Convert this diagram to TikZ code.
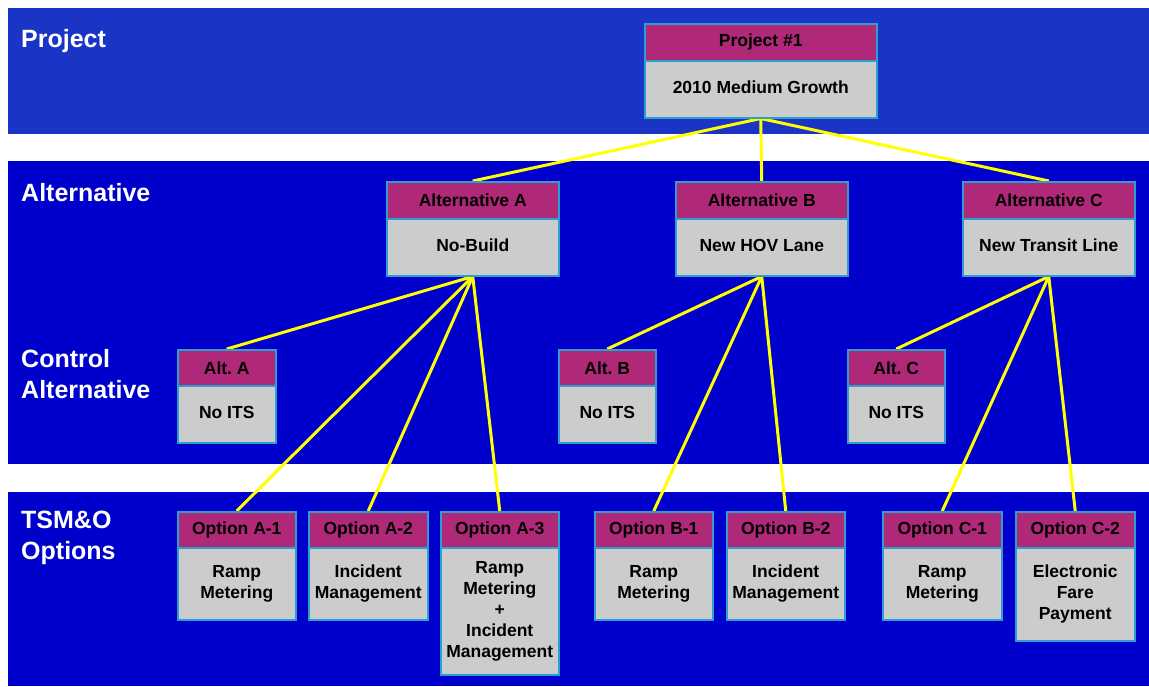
\documentclass[tikz,border=0pt]{standalone}
\usepackage{fontspec}
\setmainfont{Liberation Sans}
\usetikzlibrary{backgrounds}
\definecolor{bandtop}{HTML}{1A35C6}
\definecolor{bandmain}{HTML}{0000CC}
\definecolor{hdrfill}{HTML}{B02878}
\definecolor{bodyfill}{HTML}{CCCCCC}
\definecolor{boxedge}{HTML}{2A9FD0}
\definecolor{linkcol}{HTML}{FFFF00}
\newcommand\mkbox[9][]{%
  \node[hdrbox, minimum width=#5pt, minimum height=#6pt] (#2h) at (#3,#4) {#8};
  \node[bodybox, minimum width=#5pt, minimum height=#7pt, #1] (#2b) at (#3,#4+#6) {#9};
}
\begin{document}
\frenchspacing
\begin{tikzpicture}[x=1pt,y=-1pt,
  boxtext/.style={font=\fontsize{17.5}{21}\selectfont\bfseries, align=center, text=black},
  hdrbox/.style={boxtext, draw=boxedge, line width=1.5pt, fill=hdrfill, anchor=north west, inner sep=0pt},
  bodybox/.style={boxtext, draw=boxedge, line width=1.5pt, fill=bodyfill, anchor=north west, inner sep=0pt},
  oneline/.style={text depth=3.5pt},
  linkline/.style={draw=linkcol, line width=3pt},
  bandlabel/.style={anchor=west, inner sep=0pt, text=white, align=left, font=\fontsize{25}{31}\selectfont\bfseries}]
\useasboundingbox (0,0) rectangle (1149,686);

% boxes
\mkbox[oneline]{proj}{644}{23}{232}{37}{57}{Project \#1}{2010 Medium Growth}
\mkbox[oneline]{altA}{386}{181}{172}{37}{57}{Alternative A}{No-Build}
\mkbox[oneline]{altB}{675}{181}{172}{37}{57}{Alternative B}{New HOV Lane}
\mkbox[oneline]{altC}{962}{181}{172}{37}{57}{Alternative C}{New Transit Line}
\mkbox[oneline]{ctlA}{177}{349}{98}{36}{57}{Alt. A}{No ITS}
\mkbox[oneline]{ctlB}{558}{349}{97}{36}{57}{Alt. B}{No ITS}
\mkbox[oneline]{ctlC}{847}{349}{97}{36}{57}{Alt. C}{No ITS}
\mkbox{optAa}{177}{511}{118}{36}{72}{Option A-1}{Ramp\\Metering}
\mkbox{optAb}{308}{511}{119}{36}{72}{Option A-2}{Incident\\Management}
\mkbox{optAc}{440}{511}{118}{36}{127}{Option A-3}{Ramp\\Metering\\+\\Incident\\Management}
\mkbox{optBa}{594}{511}{118}{36}{72}{Option B-1}{Ramp\\Metering}
\mkbox{optBb}{726}{511}{118}{36}{72}{Option B-2}{Incident\\Management}
\mkbox{optCa}{882}{511}{119}{36}{72}{Option C-1}{Ramp\\Metering}
\mkbox{optCb}{1015}{511}{119}{36}{93}{Option C-2}{Electronic\\Fare\\Payment}

\begin{scope}[on background layer]
  \fill[white] (0,0) rectangle (1149,686);
  \fill[bandtop] (8,8) rectangle (1149,134);
  \fill[bandmain] (8,161) rectangle (1149,464);
  \fill[bandmain] (8,492) rectangle (1149,686);
  \node[bandlabel] (lblproj) at (21,41) {Project};
  \node[bandlabel] (lblalt) at (21,193) {Alternative};
  \node[bandlabel] (lblctl) at (21,374) {Control\\Alternative};
  \node[bandlabel] (lbltsm) at (21,538) {TSM\&O\\Options};
  \draw[linkline] (projb.south) -- (altAh.north);
  \draw[linkline] (projb.south) -- (altBh.north);
  \draw[linkline] (projb.south) -- (altCh.north);
  \draw[linkline] (altAb.south) -- (ctlAh.north);
  \draw[linkline] (altAb.south) -- (optAah.north);
  \draw[linkline] (altAb.south) -- (optAbh.north);
  \draw[linkline] (altAb.south) -- (optAch.north);
  \draw[linkline] (altBb.south) -- (ctlBh.north);
  \draw[linkline] (altBb.south) -- (optBah.north);
  \draw[linkline] (altBb.south) -- (optBbh.north);
  \draw[linkline] (altCb.south) -- (ctlCh.north);
  \draw[linkline] (altCb.south) -- (optCah.north);
  \draw[linkline] (altCb.south) -- (optCbh.north);
\end{scope}
\end{tikzpicture}
\end{document}
